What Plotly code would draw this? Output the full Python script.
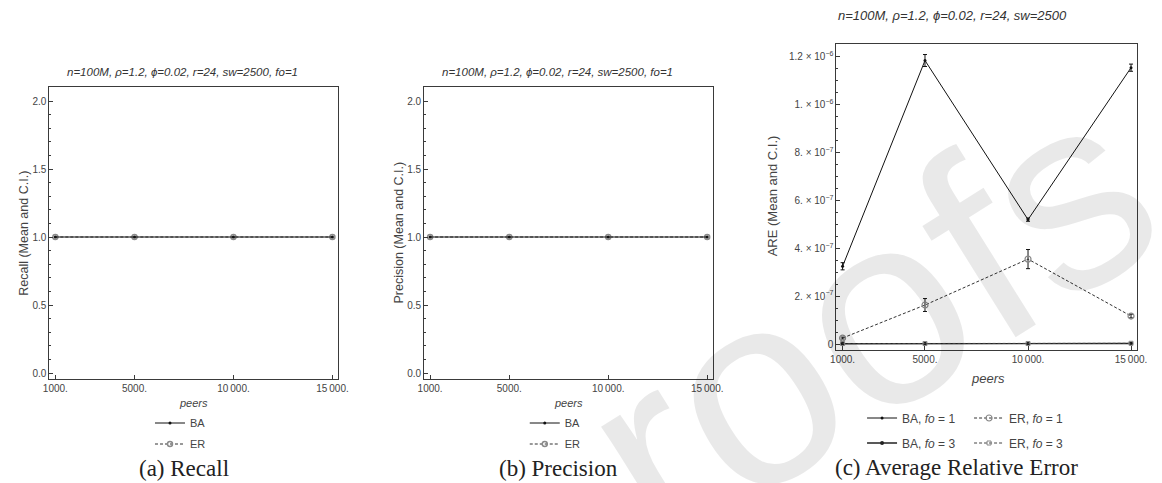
import plotly.graph_objects as go

W, H = 1162, 483

# ---- data ----
peers = [1000, 5000, 10000, 15000]
peer_labels = ["1000.", "5000.", "10\u2009000.", "15\u2009000."]

recall_ba = [1.0, 1.0, 1.0, 1.0]
recall_er = [1.0, 1.0, 1.0, 1.0]
precision_ba = [1.0, 1.0, 1.0, 1.0]
precision_er = [1.0, 1.0, 1.0, 1.0]

are_ba_fo1 = [3.25e-7, 1.185e-6, 5.2e-7, 1.155e-6]
are_ba_fo1_ci = [1.5e-8, 2.5e-8, 7e-9, 1.5e-8]
are_er_fo1 = [2.5e-8, 1.63e-7, 3.55e-7, 1.17e-7]
are_er_fo1_ci = [4e-9, 2.7e-8, 4e-8, 8e-9]
are_ba_fo3 = [1e-9, 1e-9, 1e-9, 2e-9]
are_ba_fo3_ci = [1e-9, 1e-9, 1e-9, 1e-9]
are_er_fo3 = [2e-9, 2e-9, 2e-9, 3e-9]
are_er_fo3_ci = [1e-9, 1e-9, 1e-9, 1e-9]

unit_ticks = [0.0, 0.5, 1.0, 1.5, 2.0]
unit_labels = ["0.0", "0.5", "1.0", "1.5", "2.0"]
are_ticks = [0, 2e-7, 4e-7, 6e-7, 8e-7, 1e-6, 1.2e-6]
are_labels = ["0", "2. \u00d7 10<sup>\u22127</sup>", "4. \u00d7 10<sup>\u22127</sup>",
              "6. \u00d7 10<sup>\u22127</sup>", "8. \u00d7 10<sup>\u22127</sup>",
              "1. \u00d7 10<sup>\u22126</sup>", "1.2 \u00d7 10<sup>\u22126</sup>"]

TXT = "#444444"
AX = "#3a3a3a"
SANS = "Liberation Sans, Arial, sans-serif"
SERIF = "Liberation Serif, Times New Roman, serif"


def px_x(v):
    return v / W


def px_y(v):
    return 1 - v / H


fig = go.Figure()


def add_pair(ba, er, xa, ya, leg_ba, leg_er):
    fig.add_trace(go.Scatter(
        x=peers, y=er, xaxis=xa, yaxis=ya, name="ER", legend=leg_er,
        mode="lines+markers", line=dict(color="#333333", width=1, dash="3px,2px"),
        marker=dict(size=5, symbol="circle-open", color="#8a8a8a",
                    line=dict(width=1.5, color="#8a8a8a"))))
    fig.add_trace(go.Scatter(
        x=peers, y=ba, xaxis=xa, yaxis=ya, name="BA", legend=leg_ba,
        mode="lines+markers", line=dict(color="#111111", width=1),
        marker=dict(size=3, color="#111111")))


add_pair(recall_ba, recall_er, "x2", "y2", "legend", "legend2")
add_pair(precision_ba, precision_er, "x3", "y3", "legend3", "legend4")


def err(ci):
    return dict(type="data", array=ci, color="#111111", thickness=1, width=2)


fig.add_trace(go.Scatter(
    x=peers, y=are_ba_fo1, xaxis="x4", yaxis="y4", legend="legend5",
    name="BA, <i>fo</i> = 1", mode="lines+markers",
    line=dict(color="#111111", width=1), marker=dict(size=3, color="#111111"),
    error_y=err(are_ba_fo1_ci)))
fig.add_trace(go.Scatter(
    x=peers, y=are_er_fo1, xaxis="x4", yaxis="y4", legend="legend5",
    name="ER, <i>fo</i> = 1", mode="lines+markers",
    line=dict(color="#333333", width=1, dash="3px,2px"),
    marker=dict(size=6, symbol="circle-open", color="#888888", line=dict(width=1.2, color="#888888")),
    error_y=err(are_er_fo1_ci)))
fig.add_trace(go.Scatter(
    x=peers, y=are_ba_fo3, xaxis="x4", yaxis="y4", legend="legend6",
    name="BA, <i>fo</i> = 3", mode="lines+markers",
    line=dict(color="#222222", width=1.4), marker=dict(size=4, color="#222222"),
    error_y=err(are_ba_fo3_ci)))
fig.add_trace(go.Scatter(
    x=peers, y=are_er_fo3, xaxis="x4", yaxis="y4", legend="legend6",
    name="ER, <i>fo</i> = 3", mode="lines+markers",
    line=dict(color="#444444", width=1, dash="3px,2px"),
    marker=dict(size=4, symbol="square-open", color="#888888", line=dict(width=1, color="#888888")),
    error_y=err(are_er_fo3_ci)))

tickfont = dict(family=SANS, size=10, color=TXT)


def xaxis_cfg(x0, x1, anchor):
    return dict(domain=[px_x(x0), px_x(x1)], anchor=anchor, range=[700, 15300],
                tickvals=peers, ticktext=peer_labels, ticks="inside", ticklen=4,
                tickcolor=AX, showline=True, linecolor=AX, linewidth=1, mirror=True,
                showgrid=False, zeroline=False, tickfont=tickfont)


def yaxis_cfg(y0, y1, anchor, rng, vals, labels, minor_dtick):
    return dict(domain=[px_y(y1), px_y(y0)], anchor=anchor, range=rng,
                tickvals=vals, ticktext=labels, ticks="inside", ticklen=4,
                tickcolor=AX, showline=True, linecolor=AX, linewidth=1, mirror=True,
                showgrid=False, zeroline=False, tickfont=tickfont,
                minor=dict(ticks="inside", ticklen=2, dtick=minor_dtick, tickcolor=AX, tick0=0))


def legend_cfg(x, y, size, orientation="v", entrywidth=None):
    cfg = dict(x=px_x(x), y=px_y(y), xanchor="left", yanchor="middle",
               orientation=orientation, bgcolor="rgba(0,0,0,0)", borderwidth=0,
               font=dict(family=SANS, size=size, color=TXT), itemwidth=30,
               tracegroupgap=0)
    if entrywidth:
        cfg["entrywidth"] = entrywidth
    return cfg


fig.update_layout(
    width=W, height=H, margin=dict(l=0, r=0, t=0, b=0),
    paper_bgcolor="white", plot_bgcolor="rgba(0,0,0,0)",
    xaxis=dict(domain=[0, 1], range=[0, 1], visible=False),
    yaxis=dict(domain=[0, 1], range=[0, 1], visible=False),
    xaxis2=xaxis_cfg(44, 337, "y2"),
    yaxis2=yaxis_cfg(87, 379, "x2", [-0.044, 2.103], unit_ticks, unit_labels, 0.1),
    xaxis3=xaxis_cfg(424, 717, "y3"),
    yaxis3=yaxis_cfg(87, 379, "x3", [-0.044, 2.103], unit_ticks, unit_labels, 0.1),
    xaxis4=xaxis_cfg(842, 1147, "y4"),
    yaxis4=yaxis_cfg(44, 350, "x4", [-0.025e-6, 1.254e-6], are_ticks, are_labels, 0.05e-6),
    legend=legend_cfg(146, 423, 11),
    legend2=legend_cfg(146, 444, 11),
    legend3=legend_cfg(526, 423, 11),
    legend4=legend_cfg(526, 444, 11),
    legend5=legend_cfg(868, 418, 12, "h", 62),
    legend6=legend_cfg(868, 443, 12, "h", 62),
    showlegend=True,
)

left_title = dict(family=SANS, size=11.5, color="#333333")
right_title = dict(family=SANS, size=13, color="#333333")
left_label = dict(family=SANS, size=12.5, color=TXT)
right_label = dict(family=SANS, size=13, color=TXT)
left_peers = dict(family=SANS, size=11, color=TXT)
caption_font = dict(family=SERIF, size=23, color="#222222")

notes = [
    # panel headers
    dict(x=179, y=72, text="<i>n=100M, \u03c1=1.2, \u03d5=0.02, r=24, sw=2500, fo=1</i>", font=left_title),
    dict(x=559, y=72, text="<i>n=100M, \u03c1=1.2, \u03d5=0.02, r=24, sw=2500, fo=1</i>", font=left_title),
    dict(x=960, y=16, text="<i>n=100M, \u03c1=1.2, \u03d5=0.02, r=24, sw=2500</i>", font=right_title),
    # axis titles
    dict(x=18, y=233, text="Recall (Mean and C.I.)", font=left_label, textangle=-90),
    dict(x=398, y=233, text="Precision (Mean and C.I.)", font=left_label, textangle=-90),
    dict(x=777, y=196, text="ARE (Mean and C.I.)", font=right_label, textangle=-90),
    dict(x=190, y=403, text="<i>peers</i>", font=left_peers),
    dict(x=570, y=403, text="<i>peers</i>", font=left_peers),
    dict(x=996, y=378, text="<i>peers</i>", font=right_label),
    # sub-figure captions
    dict(x=180, y=468, text="(a) Recall", font=caption_font),
    dict(x=560, y=468, text="(b) Precision", font=caption_font),
    dict(x=964, y=467, text="(c) Average Relative Error", font=caption_font),
]
for n in notes:
    fig.add_annotation(xref="paper", yref="paper", x=px_x(n["x"]), y=px_y(n["y"]),
                       xanchor="center", yanchor="middle", showarrow=False,
                       text=n["text"], font=n["font"], textangle=n.get("textangle", 0))

# translucent proof watermark across the lower right
fig.add_annotation(xref="paper", yref="paper", x=px_x(875), y=px_y(318),
                   xanchor="center", yanchor="middle", showarrow=False,
                   text="roofs", textangle=-32,
                   font=dict(family=SANS, size=272, color="rgba(0,0,0,0.085)"))

fig.write_html("out.html")
